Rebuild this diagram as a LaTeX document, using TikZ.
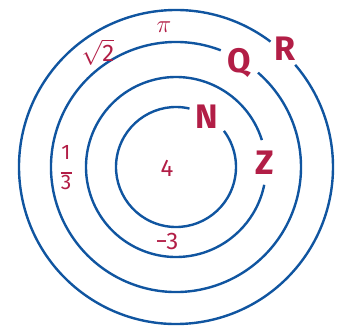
\documentclass[tikz,border=0pt]{standalone}
\usepackage{fontspec}
\usepackage{amsmath}
\setmainfont{Fira Sans}
\definecolor{ringblue}{RGB}{16,85,160}
\definecolor{setred}{RGB}{178,30,70}
\tikzset{
  ring/.style={draw=ringblue, line width=2.4pt},
  setname/.style={text=setred, font=\fontsize{34}{40}\selectfont\bfseries, inner sep=0pt},
  member/.style={text=setred, font=\fontsize{24}{28}\selectfont, inner sep=0pt}
}
\begin{document}
\begin{tikzpicture}[x=1pt,y=1pt]
  \useasboundingbox (0,0) rectangle (344,325);
  \coordinate (c) at (176,158);

  % Rings, each with a gap for its set name
  \draw[ring] (c) ++(53:157) arc (53:400.6:157);
  \draw[ring] (c) ++(69:125) arc (69:409:125);
  \draw[ring] (c) ++(17.4:90) arc (17.4:348.6:90);
  \draw[ring] (c) ++(77:60) arc (77:397:60);

  % Set names
  \node[setname] (R) at (285,276) {R};
  \node[setname] (Q) at (239,262) {Q};
  \node[setname] (Z) at (265,162) {Z};
  \node[setname] (N) at (207,208) {N};

  % Members
  \node[member] (four) at (167,157) {4};
  \node[member] (minusthree) at (167,84) {−3};
  \node[member, font=\fontsize{21}{21}\selectfont, align=center] (third) at (66,157)
    {1\\[-3pt]\rule[4pt]{11pt}{1.6pt}\\[-9pt]3};
  \node[member] (roottwo) at (98,273) {$\sqrt{\text{2}}$};
  \node[member] (pi) at (164,298) {$\pi$};
\end{tikzpicture}
\end{document}
